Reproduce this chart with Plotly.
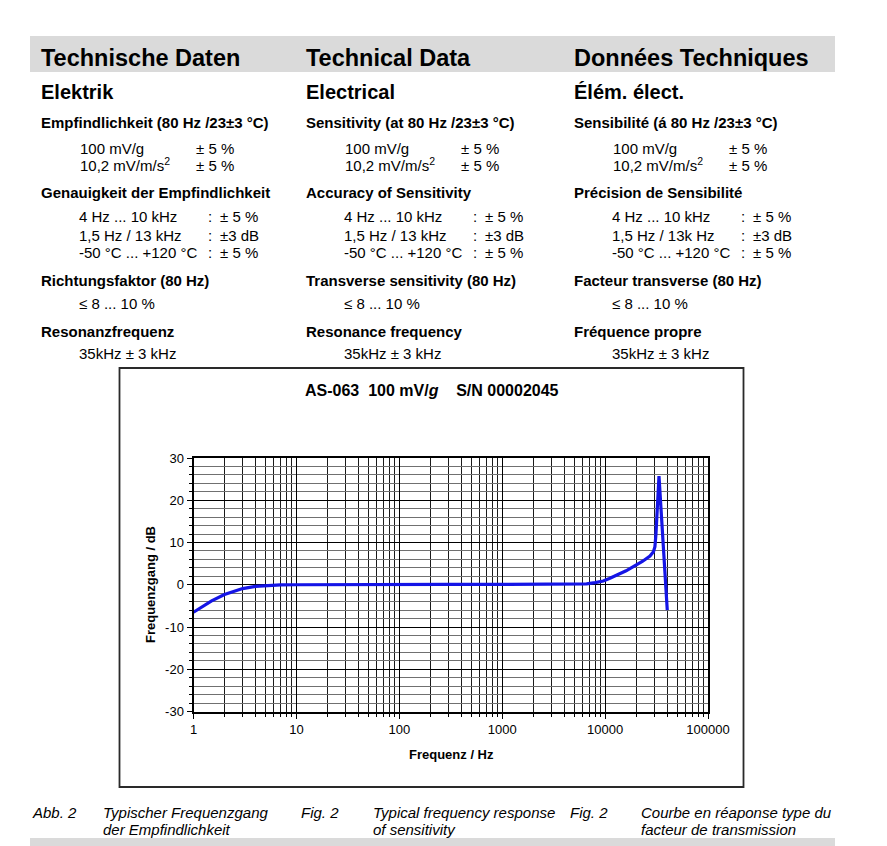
import plotly.graph_objects as go

W, H = 887, 846
FONT = "Liberation Sans, Arial, sans-serif"

# ---- curve data ----
freq_hz = [1, 1.5, 2, 3, 4, 5, 7, 10, 20, 50, 100, 300, 1000, 3000, 5000,
           6600, 8000, 9600, 11000, 13000, 16000, 18800, 23000, 27300,
           29500, 30500, 31200, 33400, 40200]
resp_db = [-6.5, -3.8, -2.3, -0.9, -0.4, -0.2, -0.05, 0.0, 0.05, 0.1, 0.1,
           0.1, 0.1, 0.05, 0.1, 0.2, 0.5, 0.9, 1.5, 2.3, 3.3, 4.3, 5.5, 6.8,
           7.8, 9.0, 12.0, 25.7, -6.0]

x_tick_vals = [1, 10, 100, 1000, 10000, 100000]
x_tick_text = ["1", "10", "100", "1000", "10000", "100000"]
y_tick_vals = [-30, -20, -10, 0, 10, 20, 30]
y_tick_text = ["-30", "-20", "-10", "0", "10", "20", "30"]

chart_title = "<b>AS-063\u00a0\u00a0100 mV/<i>g</i>\u00a0\u00a0\u00a0\u00a0S/N 00002045</b>"
x_title = "<b>Frequenz / Hz</b>"
y_title = "<b>Frequenzgang / dB</b>"

# ---- page text ----
headers = ["Technische Daten", "Technical Data", "Données Techniques"]
sections = ["Elektrik", "Electrical", "Élém. élect."]
sens_titles = ["Empfindlichkeit (80 Hz /23±3 °C)", "Sensitivity (at 80 Hz /23±3 °C)",
               "Sensibilité (á 80 Hz /23±3 °C)"]
sens_vals = ["100 mV/g", "10,2 mV/m/s<sup>2</sup>"]
sens_tol = "± 5 %"
acc_titles = ["Genauigkeit der Empfindlichkeit", "Accuracy of Sensitivity",
              "Précision de Sensibilité"]
acc_rows = [["4 Hz ... 10 kHz", "1,5 Hz / 13 kHz", "-50 °C ... +120 °C"],
            ["4 Hz ... 10 kHz", "1,5 Hz / 13 kHz", "-50 °C ... +120 °C"],
            ["4 Hz ... 10 kHz", "1,5 Hz / 13k Hz", "-50 °C ... +120 °C"]]
acc_vals = ["± 5 %", "±3 dB", "± 5 %"]
trans_titles = ["Richtungsfaktor (80 Hz)", "Transverse sensitivity (80 Hz)",
                "Facteur transverse (80 Hz)"]
trans_val = "≤ 8 ... 10 %"
res_titles = ["Resonanzfrequenz", "Resonance frequency", "Fréquence propre"]
res_val = "35kHz ± 3 kHz"
cap_labels = ["Abb. 2", "Fig. 2", "Fig. 2"]
cap_texts = [["Typischer Frequenzgang", "der Empfindlichkeit"],
             ["Typical frequency response", "of sensitivity"],
             ["Courbe en réaponse type du", "facteur de transmission"]]

# ---- layout helpers (pixel -> paper) ----
def px(x):
    return x / W

def py(y):
    return 1 - y / H

annotations = []

def txt(text, x, y, size=15, bold=False, italic=False, xanchor="left", angle=0):
    if bold:
        text = "<b>" + text + "</b>"
    if italic:
        text = "<i>" + text + "</i>"
    annotations.append(dict(text=text, x=px(x), y=py(y), xref="paper", yref="paper",
                            xanchor=xanchor, yanchor="middle", showarrow=False,
                            textangle=angle, borderpad=0,
                            font=dict(family=FONT, size=size, color="black")))

col_x = [40, 305, 573]
for i, cx in enumerate(col_x):
    txt(headers[i], cx, 58, size=23.5, bold=True)
    txt(sections[i], cx, 92, size=20, bold=True)
    txt(sens_titles[i], cx, 123, size=15, bold=True)
    txt(sens_vals[0], cx + 39, 149)
    txt(sens_tol, cx + 155, 149)
    txt(sens_vals[1], cx + 39, 164)
    txt(sens_tol, cx + 155, 166)
    txt(acc_titles[i], cx, 192, size=15, bold=True)
    for r, yy in enumerate([217, 235, 252]):
        txt(acc_rows[i][r], cx + 38, yy)
        txt(":", cx + 167, yy)
        txt(acc_vals[r], cx + 179, yy)
    txt(trans_titles[i], cx, 280, size=15, bold=True)
    txt(trans_val, cx + 38, 303)
    txt(res_titles[i], cx, 331, size=15, bold=True)
    txt(res_val, cx + 38, 353)

cap_lx = [31, 300, 569]
cap_tx = [102, 372, 640]
for i in range(3):
    txt(cap_labels[i], cap_lx[i], 812, size=15, italic=True)
    txt(cap_texts[i][0], cap_tx[i], 812, size=15, italic=True)
    txt(cap_texts[i][1], cap_tx[i], 829, size=15, italic=True)

# chart texts
txt(chart_title, 432, 391, size=16, xanchor="center")
txt(x_title, 451, 754, size=13, xanchor="center")
txt(y_title, 150, 585, size=13, xanchor="center", angle=-90)

shapes = [
    dict(type="rect", xref="paper", yref="paper", x0=px(30), x1=px(835),
         y0=py(72), y1=py(36), fillcolor="#dadada", line=dict(width=0), layer="below"),
    dict(type="rect", xref="paper", yref="paper", x0=px(30), x1=px(835),
         y0=py(846), y1=py(838), fillcolor="#dadada", line=dict(width=0), layer="below"),
    dict(type="rect", xref="paper", yref="paper", x0=px(119.5), x1=px(743.5),
         y0=py(787), y1=py(368), fillcolor="rgba(0,0,0,0)",
         line=dict(color="#2a2a2a", width=1.8), layer="below"),
]

minor_x = [m * 10 ** d for d in range(5) for m in range(2, 10)]

fig = go.Figure()
fig.add_trace(go.Scatter(x=freq_hz, y=resp_db, mode="lines",
                         line=dict(color="#1414e6", width=3.2), hoverinfo="skip"))

fig.update_layout(
    template="none",
    width=W, height=H, autosize=False, margin=dict(l=0, r=0, t=0, b=0, pad=0),
    paper_bgcolor="white", plot_bgcolor="white", showlegend=False,
    annotations=annotations, shapes=shapes,
    xaxis=dict(type="log", range=[0, 5], domain=[px(193.5), px(708)],
               automargin=False,
               tickvals=x_tick_vals, ticktext=x_tick_text,
               ticks="outside", ticklen=5, tickwidth=1, tickcolor="black",
               showgrid=True, gridcolor="black", gridwidth=1,
               showline=True, linecolor="black", linewidth=2, mirror=True,
               zeroline=False,
               tickfont=dict(family=FONT, size=13, color="black"),
               minor=dict(tickmode="array", tickvals=minor_x, showgrid=True,
                          gridcolor="#1a1a1a", gridwidth=1, ticks="outside",
                          ticklen=3, tickcolor="black")),
    yaxis=dict(range=[-30, 30], domain=[py(711.5), py(458)],
               automargin=False,
               tickvals=y_tick_vals, ticktext=y_tick_text,
               ticks="outside", ticklen=5, tickwidth=1, tickcolor="black",
               showgrid=True, gridcolor="black", gridwidth=1,
               showline=True, linecolor="black", linewidth=2, mirror=True,
               zeroline=False,
               tickfont=dict(family=FONT, size=13, color="black"),
               minor=dict(dtick=2, tick0=0, showgrid=True, gridcolor="#707070",
                          gridwidth=1, ticks="outside", ticklen=3, tickcolor="black")),
)

fig.write_html("out.html",
               config={"responsive": False, "displayModeBar": False},
               post_script="document.body.style.margin='0';"
                           "document.documentElement.style.overflow='hidden';"
                           "document.body.style.overflow='hidden';")
